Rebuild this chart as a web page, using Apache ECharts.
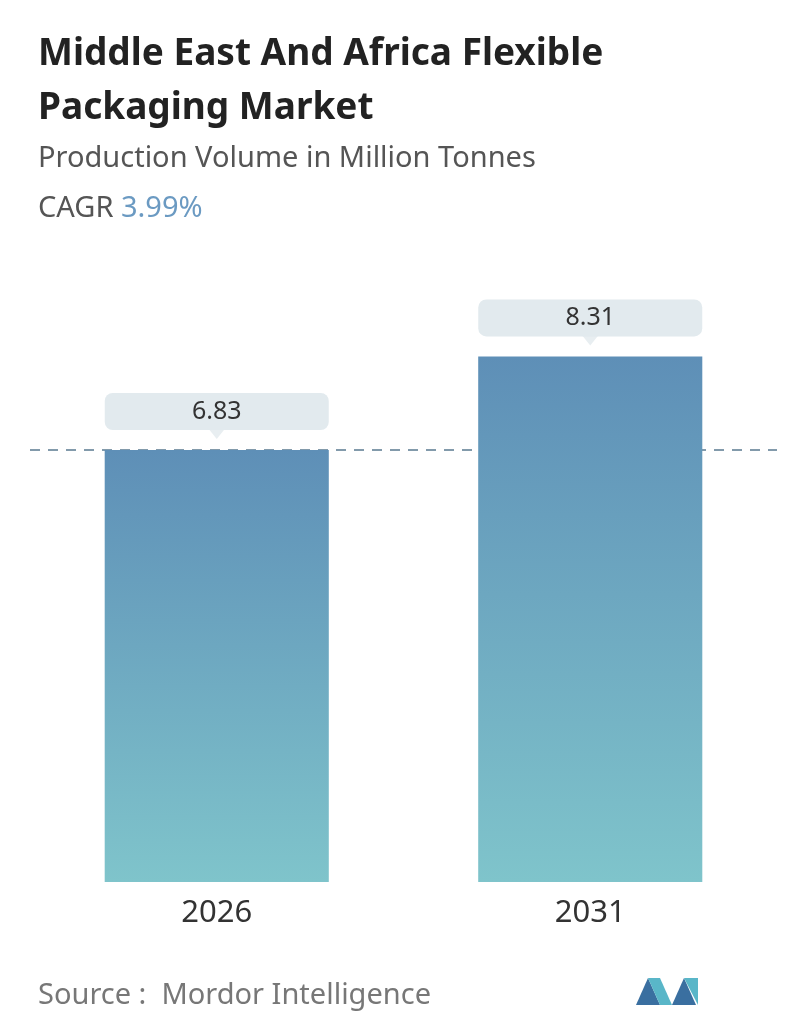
<!DOCTYPE html>
<html>
<head>
<meta charset="utf-8">
<script src="https://cdn.jsdelivr.net/npm/echarts@6/dist/echarts.min.js"></script>
<style>body{margin:0;background:#fff}#main{width:796px;height:1034px}</style>
</head>
<body>
<div id="main"></div>
<script>
var years = ['2026', '2031'];
var volumes = [6.83, 8.31];
var refLine = 6.83;

var chart = echarts.init(document.getElementById('main'));
var font = 'Noto Sans';

chart.setOption({
  backgroundColor: '#fff',
  textStyle: { fontFamily: font },
  title: [
    { text: 'Middle East And Africa Flexible\nPackaging Market', left: 33, top: 22,
      textStyle: { fontSize: 37, fontWeight: 'bold', color: '#222', lineHeight: 54, fontFamily: font } },
    { text: 'Production Volume in Million Tonnes', left: 33, top: 139,
      textStyle: { fontSize: 29, fontWeight: 'normal', color: '#555', fontFamily: font } },
    { text: 'CAGR {v|3.99%}', left: 33, top: 189,
      textStyle: { fontSize: 29, fontWeight: 'normal', color: '#555', fontFamily: font,
        rich: { v: { fontSize: 29, color: '#6b9ac2', fontFamily: font } } } },
    { text: 'Source :  Mordor Intelligence', left: 33, top: 976,
      textStyle: { fontSize: 29, fontWeight: 'normal', color: '#777', fontFamily: font } }
  ],
  grid: { left: 30, right: 19, top: 249.5, bottom: 152 },
  xAxis: {
    type: 'category', data: years,
    axisLine: { show: false }, axisTick: { show: false },
    axisLabel: { fontSize: 31, color: '#333', margin: 16, fontFamily: font }
  },
  yAxis: { type: 'value', min: 0, max: 10, show: false, splitLine: { show: false } },
  series: [
    {
      type: 'line', data: [], zlevel: 0,
      markLine: {
        silent: true, symbol: 'none', label: { show: false },
        lineStyle: { color: '#5a7a90', type: [10, 8], width: 1.5 },
        data: [{ yAxis: refLine }]
      }
    },
    {
      type: 'bar', data: volumes, barWidth: '60%', zlevel: 1,
      itemStyle: {
        color: new echarts.graphic.LinearGradient(0, 0, 0, 1, [
          { offset: 0, color: '#5e8fb7' }, { offset: 1, color: '#7fc4cb' }])
      },
      label: {
        show: true, position: 'top', distance: 20, fontSize: 25, color: '#333',
        backgroundColor: '#e2eaee', borderRadius: 8, width: 200, align: 'center',
        padding: [6, 12, 6, 12], fontFamily: font
      }
    },
    {
      type: 'scatter', data: volumes, zlevel: 1, z: 3, symbol: 'triangle', symbolRotate: 180,
      symbolSize: [16, 10], symbolOffset: [0, -16], itemStyle: { color: '#e2eaee' }, silent: true
    }
  ],
  graphic: [
    { type: 'polygon', shape: { points: [[636, 1005], [648, 978], [660, 1005]] }, style: { fill: '#3a6fa0' } },
    { type: 'polygon', shape: { points: [[648, 978], [660, 978], [672, 1005], [660, 1005]] }, style: { fill: '#59b6c8' } },
    { type: 'polygon', shape: { points: [[672, 1005], [684, 978], [696, 1005]] }, style: { fill: '#3a6fa0' } },
    { type: 'polygon', shape: { points: [[684, 978], [698, 978], [698, 1005]] }, style: { fill: '#59b6c8' } }
  ]
});
</script>
</body>
</html>
